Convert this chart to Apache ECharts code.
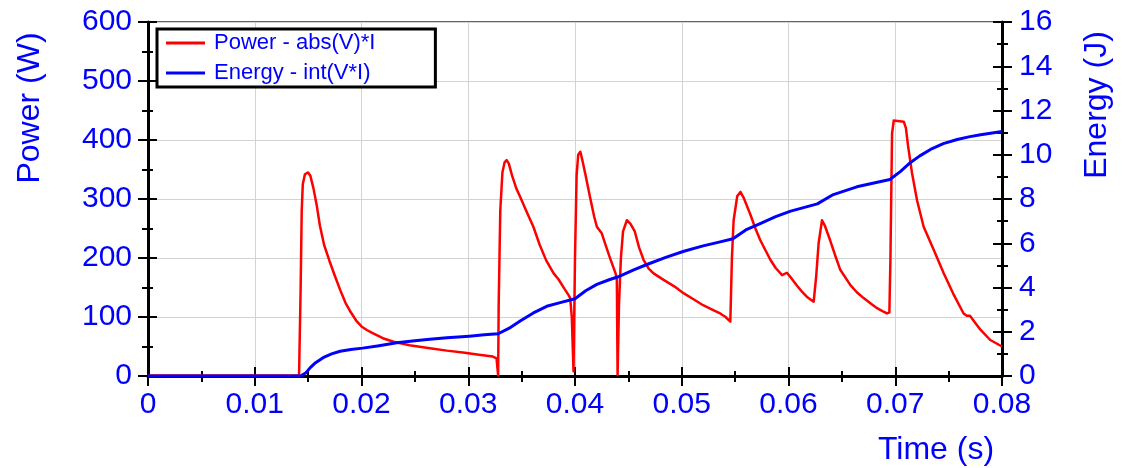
<!DOCTYPE html>
<html>
<head>
<meta charset="utf-8">
<script src="https://cdn.jsdelivr.net/npm/echarts@6/dist/echarts.min.js"></script>
<style>html,body{margin:0;padding:0;background:#fff}#c{width:1122px;height:468px}</style>
</head>
<body>
<div id="c"></div>
<script>
// Power - abs(V)*I  (W) vs time (s)
const powerTime = [0, 0.01415, 0.0143, 0.0144, 0.0145, 0.0147, 0.0150, 0.0152, 0.0155, 0.0158, 0.0161, 0.0165, 0.0170, 0.0175, 0.0180, 0.0185, 0.0190, 0.0195, 0.0200, 0.0205, 0.0210, 0.0220, 0.0230, 0.0245, 0.0264, 0.0280, 0.0295, 0.0310, 0.0323, 0.03265, 0.0328,
  0.03285, 0.0330, 0.0332, 0.0334, 0.0336, 0.0338, 0.0341, 0.0345, 0.0349, 0.0355, 0.0361, 0.0367, 0.0373, 0.0380, 0.03845, 0.0390, 0.0394, 0.03955, 0.0397, 0.03986,
  0.0400, 0.04015, 0.0403, 0.0405, 0.0407, 0.04096, 0.0414, 0.0418, 0.04205, 0.0425, 0.0429, 0.0433, 0.0438, 0.04392, 0.04399,
  0.04412, 0.0443, 0.0445, 0.04486, 0.0452, 0.0456, 0.0460, 0.04642, 0.0469, 0.04736, 0.0483, 0.0493, 0.0502, 0.0511, 0.0520, 0.0528, 0.0536, 0.0541, 0.05455,
  0.0547, 0.05486, 0.0552, 0.0555, 0.0558, 0.0564, 0.0569, 0.05736, 0.0583, 0.0588, 0.0594, 0.05985, 0.0603, 0.0608, 0.06126, 0.0618, 0.06236,
  0.0626, 0.06282, 0.06314, 0.0634, 0.0639, 0.0644, 0.06485, 0.0658, 0.0664, 0.06704, 0.0677, 0.0683, 0.0688, 0.06923, 0.06945,
  0.06955, 0.0697, 0.06986, 0.0708, 0.0710, 0.0712, 0.07157, 0.07204, 0.07266, 0.0736, 0.07454, 0.0755, 0.0764, 0.0767, 0.0770, 0.0775, 0.0780, 0.0789, 0.0800];
const powerValues = [1, 1, 150, 280, 325, 342, 345, 340, 318, 290, 255, 222, 195, 170, 146, 124, 108, 94, 84, 78, 73, 64, 58, 52, 47, 43, 40, 36, 33, 30, 1,
  120, 280, 345, 362, 366, 360, 340, 318, 302, 277, 253, 222, 196, 174, 164, 148, 137, 132, 100, 8,
  200, 340, 375, 380, 365, 343, 304, 270, 253, 242, 220, 199, 174, 163, 2,
  120, 200, 245, 264, 258, 245, 218, 197, 182, 174, 163, 152, 140, 130, 120, 113, 106, 100, 92,
  200, 264, 305, 312, 302, 275, 250, 230, 197, 183, 171, 175, 165, 153, 143, 133, 126,
  170, 225, 264, 255, 230, 203, 180, 154, 142, 132, 123, 115, 110, 106, 108,
  200, 411, 433, 431, 420, 390, 344, 298, 253, 214, 174, 137, 106, 102, 102, 90, 78, 61, 50];
// Energy - int(V*I)  (J) vs time (s)
const energyTime = [0, 0.0143, 0.0148, 0.0152, 0.0157, 0.0164, 0.0172, 0.0180, 0.0190, 0.0201, 0.0215, 0.0233, 0.0250, 0.0264, 0.0280, 0.0301, 0.0315, 0.0328, 0.0338, 0.0349, 0.0361, 0.03735, 0.0387, 0.0400, 0.0410, 0.04205, 0.0432, 0.0442, 0.0455, 0.04674, 0.0485, 0.0502, 0.0520, 0.0535, 0.0548, 0.0560, 0.0574, 0.0588, 0.0602, 0.0615, 0.0627, 0.0642, 0.0664, 0.0680, 0.0695, 0.0705, 0.0714, 0.0723, 0.0733, 0.0745, 0.0758, 0.0770, 0.0780, 0.0800];
const energyValues = [0, 0, 0.15, 0.38, 0.6, 0.83, 1.0, 1.12, 1.2, 1.26, 1.36, 1.5, 1.59, 1.66, 1.73, 1.8, 1.86, 1.91, 2.15, 2.5, 2.85, 3.15, 3.33, 3.49, 3.85, 4.14, 4.35, 4.51, 4.8, 5.04, 5.36, 5.64, 5.88, 6.05, 6.2, 6.6, 6.9, 7.2, 7.45, 7.62, 7.78, 8.2, 8.55, 8.72, 8.88, 9.25, 9.64, 9.95, 10.24, 10.5, 10.69, 10.82, 10.9, 11.05];
const seriesNames = ['Power - abs(V)*I', 'Energy - int(V*I)'];
const axisTitles = {x: 'Time (s)', yLeft: 'Power (W)', yRight: 'Energy (J)'};

const FONT = '"Liberation Sans", Arial, sans-serif';
const BLUE = '#0000ff';
const RED = '#ff0000';
const tickLine = {color: '#000', width: 2};

function baseAxis(extra) {
  return Object.assign({
    type: 'value',
    axisLine: {show: true, onZero: false, lineStyle: {color: '#000', width: 3}},
    axisTick: {show: true, length: 10, lineStyle: tickLine},
    minorTick: {show: true, splitNumber: 2, length: 6, lineStyle: tickLine},
    axisLabel: {color: BLUE, fontSize: 30, fontFamily: FONT},
    splitLine: {show: false}
  }, extra);
}
function innerAxis(extra) {
  return Object.assign({
    type: 'value',
    axisLine: {show: false, onZero: false},
    axisTick: {show: true, inside: true, length: 9, lineStyle: tickLine},
    minorTick: {show: true, splitNumber: 2, length: 5, lineStyle: tickLine},
    axisLabel: {show: false},
    splitLine: {show: false}
  }, extra);
}

const chart = echarts.init(document.getElementById('c'), null, {renderer: 'canvas'});
chart.setOption({
  animation: false,
  backgroundColor: '#fff',
  grid: {left: 148, right: 120, top: 22, bottom: 92, containLabel: false, outerBoundsMode: 'none',
         show: true, borderColor: '#333', borderWidth: 1.5, backgroundColor: 'transparent'},
  legend: {
    orient: 'vertical', left: 157, top: 29,
    data: seriesNames,
    icon: 'rect', itemWidth: 39, itemHeight: 3, itemGap: 8,
    padding: [3, 60, 3, 9],
    borderColor: '#000', borderWidth: 3, backgroundColor: '#fff',
    textStyle: {color: BLUE, fontSize: 22, fontFamily: FONT, padding: [0, 0, 0, 4]}
  },
  xAxis: [
    baseAxis({min: 0, max: 0.08, interval: 0.01, position: 'bottom',
      axisLabel: {color: BLUE, fontSize: 30, fontFamily: FONT, margin: 14},
      splitLine: {show: true, lineStyle: {color: '#d3d3d3', width: 1}}}),
    innerAxis({min: 0, max: 0.08, interval: 0.01, position: 'bottom'})
  ],
  yAxis: [
    baseAxis({min: 0, max: 600, interval: 100, position: 'left',
      axisLabel: {color: BLUE, fontSize: 30, fontFamily: FONT, margin: 16},
      splitLine: {show: true, lineStyle: {color: '#d3d3d3', width: 1}}}),
    baseAxis({min: 0, max: 16, interval: 2, position: 'right',
      axisLabel: {color: BLUE, fontSize: 30, fontFamily: FONT, margin: 17}}),
    innerAxis({min: 0, max: 600, interval: 100, position: 'left'}),
    innerAxis({min: 0, max: 16, interval: 2, position: 'right'})
  ],
  graphic: [
    {type: 'text', x: 30, y: 108, rotation: Math.PI / 2,
     style: {text: axisTitles.yLeft, fill: BLUE, font: '32px ' + FONT, align: 'center', verticalAlign: 'middle'}},
    {type: 'text', x: 1097, y: 105, rotation: Math.PI / 2,
     style: {text: axisTitles.yRight, fill: BLUE, font: '32px ' + FONT, align: 'center', verticalAlign: 'middle'}},
    {type: 'text', x: 936, y: 450,
     style: {text: axisTitles.x, fill: BLUE, font: '32px ' + FONT, align: 'center', verticalAlign: 'middle'}}
  ],
  series: [
    {name: seriesNames[0], type: 'line', xAxisIndex: 0, yAxisIndex: 0,
     data: powerTime.map((t, i) => [t, powerValues[i]]),
     showSymbol: false, symbol: 'none',
     lineStyle: {color: RED, width: 2.5, join: 'round'}, itemStyle: {color: RED}},
    {name: seriesNames[1], type: 'line', xAxisIndex: 0, yAxisIndex: 1,
     data: energyTime.map((t, i) => [t, energyValues[i]]),
     showSymbol: false, symbol: 'none',
     lineStyle: {color: BLUE, width: 3, join: 'round'}, itemStyle: {color: BLUE}}
  ]
});
</script>
</body>
</html>
